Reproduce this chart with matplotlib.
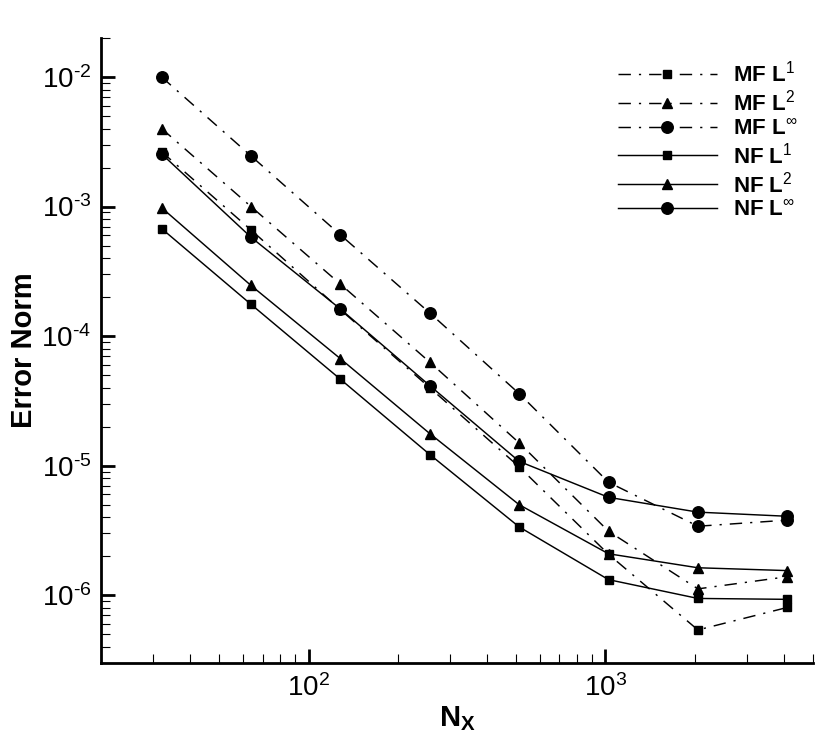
import matplotlib
matplotlib.use("Agg")
import matplotlib.pyplot as plt
from matplotlib.ticker import LogLocator, FuncFormatter, NullFormatter
import numpy as np

plt.rcParams['font.family'] = ['Liberation Sans', 'DejaVu Sans']
plt.rcParams['mathtext.fontset'] = 'custom'
plt.rcParams['mathtext.rm'] = 'Liberation Sans'
plt.rcParams['mathtext.it'] = 'Liberation Sans:italic'
plt.rcParams['mathtext.bf'] = 'Liberation Sans:bold'

# Data
nx = [32, 64, 128, 256, 512, 1024, 2048, 4096]
mf_l1 = [2.65e-3, 6.6e-4, 1.6e-4, 4.0e-5, 9.8e-6, 2.07e-6, 5.4e-7, 8.05e-7]
mf_l2 = [4.0e-3, 1.0e-3, 2.52e-4, 6.3e-5, 1.5e-5, 3.12e-6, 1.12e-6, 1.39e-6]
mf_linf = [1.0e-2, 2.46e-3, 6.05e-4, 1.51e-4, 3.6e-5, 7.45e-6, 3.41e-6, 3.8e-6]
nf_l1 = [6.76e-4, 1.76e-4, 4.65e-5, 1.22e-5, 3.37e-6, 1.32e-6, 9.45e-7, 9.3e-7]
nf_l2 = [9.8e-4, 2.46e-4, 6.7e-5, 1.77e-5, 5.0e-6, 2.09e-6, 1.63e-6, 1.55e-6]
nf_linf = [2.55e-3, 5.8e-4, 1.62e-4, 4.15e-5, 1.08e-5, 5.7e-6, 4.38e-6, 4.07e-6]

labels = [r'MF L$^{1}$', r'MF L$^{2}$', r'MF L$^{\infty}$',
          r'NF L$^{1}$', r'NF L$^{2}$', r'NF L$^{\infty}$']

fig = plt.figure(figsize=(8.3, 7.39), dpi=100)
ax = fig.add_axes([101/830, 1-663/739, (813-101)/830, (663-38)/739])

dashdot = (8.5, 5.5, 1.5, 5.5)
lw = 1.05
series = [
    (mf_l1, 's', 6.0, True),
    (mf_l2, '^', 7.0, True),
    (mf_linf, 'o', 8.3, True),
    (nf_l1, 's', 6.0, False),
    (nf_l2, '^', 7.0, False),
    (nf_linf, 'o', 8.3, False),
]
for (vals, mk, ms, dd), lab in zip(series, labels):
    line, = ax.plot(nx, vals, color='black', lw=lw, marker=mk, ms=ms,
                    markerfacecolor='black', markeredgecolor='black', label=lab)
    if dd:
        line.set_dashes(dashdot)

ax.set_xscale('log')
ax.set_yscale('log')
ax.set_xlim(20, 5000)
ax.set_ylim(3e-7, 2e-2)

for s in ['top', 'right']:
    ax.spines[s].set_visible(False)
for s in ['left', 'bottom']:
    ax.spines[s].set_linewidth(2.0)

def fmt(v, pos):
    e = int(round(np.log10(v)))
    if e < 0:
        return r'$\mathregular{10^{\text{-}%d}}$' % (-e)
    return r'$\mathregular{10^{%d}}$' % e

ax.xaxis.set_major_locator(LogLocator(base=10, numticks=10))
ax.yaxis.set_major_locator(LogLocator(base=10, numticks=10))
ax.xaxis.set_minor_locator(LogLocator(base=10, subs=np.arange(2, 10), numticks=20))
ax.yaxis.set_minor_locator(LogLocator(base=10, subs=np.arange(2, 10), numticks=20))
ax.xaxis.set_major_formatter(FuncFormatter(fmt))
ax.yaxis.set_major_formatter(FuncFormatter(fmt))
ax.xaxis.set_minor_formatter(NullFormatter())
ax.yaxis.set_minor_formatter(NullFormatter())

ax.tick_params(which='major', direction='in', length=10, width=2.0,
               labelsize=20, pad=8)
ax.tick_params(which='minor', direction='in', length=6.5, width=0.8)
ax.tick_params(axis='y', which='major', pad=7)

ax.set_ylabel('Error Norm', fontsize=21, fontweight='bold')
ax.yaxis.set_label_coords((38-101)/712, 0.5)
ax.set_xlabel(r'$\mathbf{N_X}$', fontsize=21, labelpad=2)

leg = ax.legend(loc='upper left', bbox_to_anchor=(609/830, 1-52/739),
                bbox_transform=fig.transFigure, frameon=False,
                prop={'weight': 'bold', 'size': 16}, handlelength=4.45,
                handletextpad=0.72, labelspacing=0.13, borderaxespad=0)

fig.savefig('out.png', dpi=100)
